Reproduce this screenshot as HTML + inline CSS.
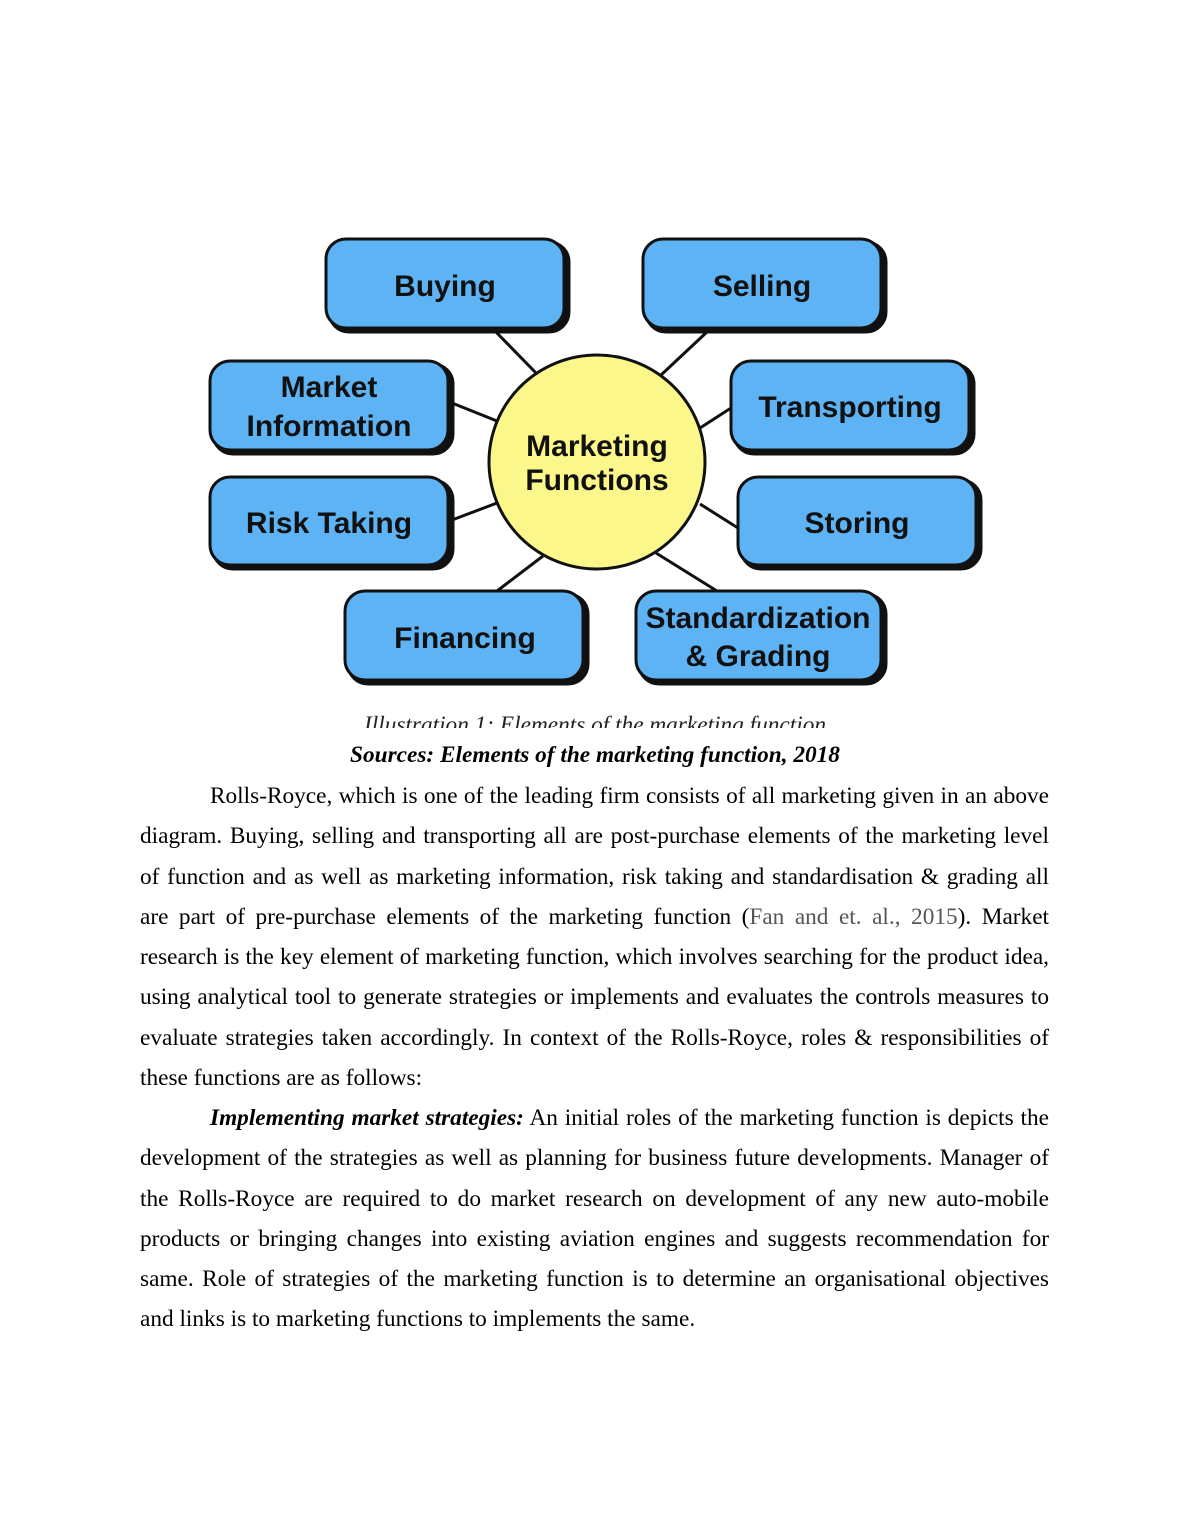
<!DOCTYPE html>
<html><head><meta charset="utf-8"><style>
html,body{margin:0;padding:0;background:#fff;}
body{width:1190px;height:1540px;position:relative;overflow:hidden;font-family:"Liberation Serif",serif;color:#000;}
.cap{position:absolute;left:0;width:1190px;text-align:center;font-style:italic;}
.txt{position:absolute;left:140px;width:909px;top:776px;font-size:23.3px;line-height:40.25px;}
.l{text-align:justify;text-align-last:justify;height:40.25px;white-space:nowrap;}
.last{text-align:left;text-align-last:left;}
.ind{padding-left:70px;}
</style></head><body>
<svg width="1190" height="720" style="position:absolute;left:0;top:0" font-family="Liberation Sans, sans-serif" font-weight="bold">
<g stroke="#111" stroke-width="3">
<line x1="495" y1="331" x2="537" y2="374"/>
<line x1="708" y1="331" x2="660" y2="376"/>
<line x1="452" y1="403" x2="497" y2="421"/>
<line x1="731" y1="408" x2="700" y2="428"/>
<line x1="452" y1="520" x2="497" y2="503"/>
<line x1="738" y1="528" x2="700" y2="504"/>
<line x1="497" y1="591" x2="543" y2="556"/>
<line x1="717" y1="591" x2="656" y2="553"/>
</g>
<g fill="#5db3f4" stroke="#111" stroke-width="3">
<rect x="329" y="242" width="240" height="90" rx="20" fill="#111"/>
<rect x="326" y="239" width="238" height="89" rx="20"/>
<rect x="646" y="242" width="240" height="90" rx="20" fill="#111"/>
<rect x="643" y="239" width="238" height="89" rx="20"/>
<rect x="213" y="364" width="240" height="90" rx="20" fill="#111"/>
<rect x="210" y="361" width="238" height="89" rx="20"/>
<rect x="734" y="364" width="240" height="90" rx="20" fill="#111"/>
<rect x="731" y="361" width="238" height="89" rx="20"/>
<rect x="213" y="480" width="240" height="89" rx="20" fill="#111"/>
<rect x="210" y="477" width="238" height="88" rx="20"/>
<rect x="741" y="480" width="240" height="89" rx="20" fill="#111"/>
<rect x="738" y="477" width="238" height="88" rx="20"/>
<rect x="348" y="594" width="240" height="90" rx="20" fill="#111"/>
<rect x="345" y="591" width="238" height="89" rx="20"/>
<rect x="639" y="594" width="247" height="90" rx="20" fill="#111"/>
<rect x="636" y="591" width="245" height="89" rx="20"/>
</g>
<ellipse cx="597" cy="462" rx="108" ry="107" fill="#fbf78a" stroke="#111" stroke-width="3"/>
<g fill="#111" font-size="30" text-anchor="middle">
<text x="445" y="296">Buying</text>
<text x="762" y="296">Selling</text>
<text x="329" y="397">Market</text>
<text x="329" y="436">Information</text>
<text x="850" y="417">Transporting</text>
<text x="329" y="533">Risk Taking</text>
<text x="857" y="533">Storing</text>
<text x="465" y="648">Financing</text>
<text x="758" y="628">Standardization</text>
<text x="758" y="666">&amp; Grading</text>
<text x="597" y="456">Marketing</text>
<text x="597" y="490">Functions</text>
</g>
</svg>
<div class="cap" style="top:710px;height:18px;overflow:hidden;font-size:23.3px;line-height:30px;color:#222;">Illustration 1: Elements of the marketing function</div>
<div class="cap" style="top:739px;font-size:23.3px;font-weight:bold;line-height:32px;">Sources: Elements of the marketing function, 2018</div>
<div class="txt">
<div class="l ind">Rolls-Royce, which is one of the leading firm consists of all marketing given in an above</div>
<div class="l">diagram. Buying, selling and transporting all are post-purchase elements of the marketing level</div>
<div class="l">of function and as well as marketing information, risk taking and standardisation &amp; grading all</div>
<div class="l">are part of pre-purchase elements of the marketing function (<span style="color:#555">Fan and et. al., 2015</span>). Market</div>
<div class="l">research is the key element of marketing function, which involves searching for the product idea,</div>
<div class="l">using analytical tool to generate strategies or implements and evaluates the controls measures to</div>
<div class="l">evaluate strategies taken accordingly. In context of the Rolls-Royce, roles &amp; responsibilities of</div>
<div class="l last">these functions are as follows:</div>
<div class="l ind"><b><i>Implementing market strategies:</i></b> An initial roles of the marketing function is depicts the</div>
<div class="l">development of the strategies as well as planning for business future developments. Manager of</div>
<div class="l">the Rolls-Royce are required to do market research on development of any new auto-mobile</div>
<div class="l">products or bringing changes into existing aviation engines and suggests recommendation for</div>
<div class="l">same. Role of strategies of the marketing function is to determine an organisational objectives</div>
<div class="l last">and links is to marketing functions to implements the same.</div>
</div>
</body></html>
